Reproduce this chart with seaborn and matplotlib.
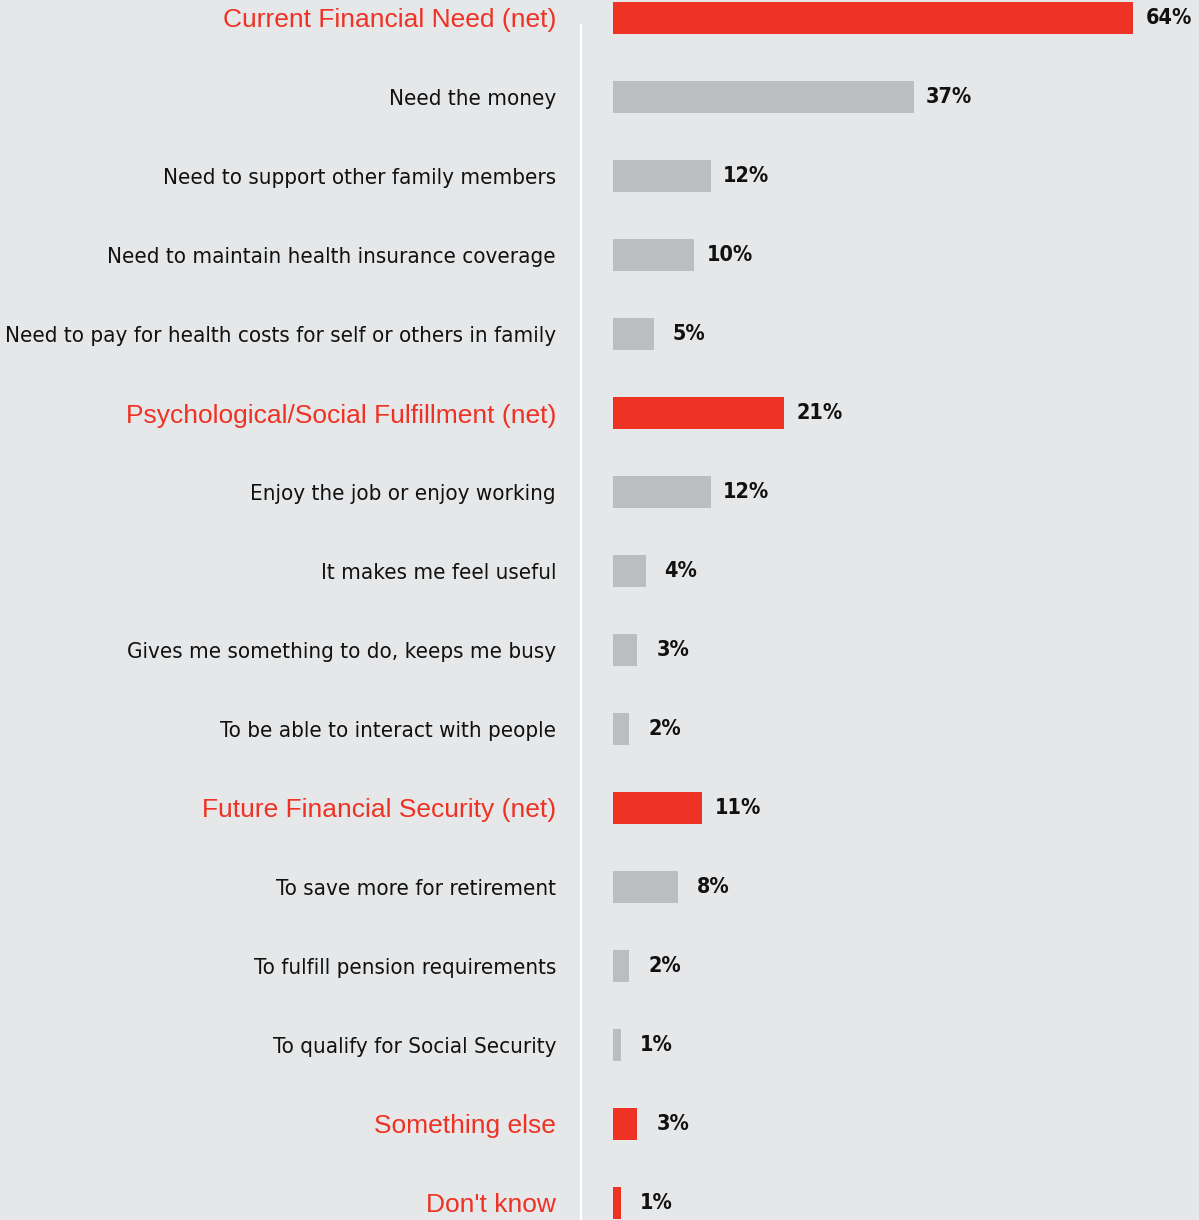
import matplotlib
matplotlib.use("Agg")
import matplotlib.pyplot as plt
from matplotlib.lines import Line2D
import seaborn as sns
import pandas as pd

categories = [
    "Current Financial Need (net)",
    "Need the money",
    "Need to support other family members",
    "Need to maintain health insurance coverage",
    "Need to pay for health costs for self or others in family",
    "Psychological/Social Fulfillment (net)",
    "Enjoy the job or enjoy working",
    "It makes me feel useful",
    "Gives me something to do, keeps me busy",
    "To be able to interact with people",
    "Future Financial Security (net)",
    "To save more for retirement",
    "To fulfill pension requirements",
    "To qualify for Social Security",
    "Something else",
    "Don't know",
]
values = [64, 37, 12, 10, 5, 21, 12, 4, 3, 2, 11, 8, 2, 1, 3, 1]
is_net = [True, False, False, False, False, True, False, False, False, False,
          True, False, False, False, True, True]

RED = "#ee3224"
GREY = "#bcbdbf"
BG = "#e6e7e9"

df = pd.DataFrame({"reason": categories, "pct": values})
palette = {c: (RED if n else GREY) for c, n in zip(categories, is_net)}

sns.set_theme(style="white")
fig = plt.figure(figsize=(11.99, 12.20), dpi=100)
fig.patch.set_facecolor(BG)
W, H = 1199, 1220
ax = fig.add_axes([613 / W, 0, (W - 613) / W, 1])
ax.set_facecolor(BG)

sns.barplot(data=df, x="pct", y="reason", hue="reason", palette=palette,
            orient="h", width=0.41, legend=False, ax=ax, saturation=1,
            linewidth=0)

step = 79
ax.set_xlim(0, (W - 613) / 8.125)
ax.set_ylim((H - 18) / step, -18 / step)

# value labels centred a fixed distance past each bar end
for cont in ax.containers:
    anns = ax.bar_label(cont, labels=[f"{v:.0f}%" for v in cont.datavalues],
                        padding=25.6, fontsize=15.5, fontweight="bold",
                        family="DejaVu Sans", fontstretch="condensed",
                        color="#111111")
    for a in anns:
        a.set_ha("center")

ax.set_xlabel("")
ax.set_ylabel("")
ax.set_xticks([])
ax.tick_params(axis="y", length=0, pad=41)
for lab, n in zip(ax.get_yticklabels(), is_net):
    if n:
        lab.set_color(RED)
        lab.set_fontfamily("Liberation Sans")
        lab.set_fontsize(19)
    else:
        lab.set_color("#111111")
        lab.set_fontfamily("DejaVu Sans")
        lab.set_fontstretch("condensed")
        lab.set_fontsize(16)
for s in ax.spines.values():
    s.set_visible(False)

fig.add_artist(Line2D([580.5 / W, 580.5 / W], [0, 1 - 25 / H],
                      transform=fig.transFigure, color="white", lw=1.6))

fig.savefig("out.png", dpi=100, facecolor=BG)
